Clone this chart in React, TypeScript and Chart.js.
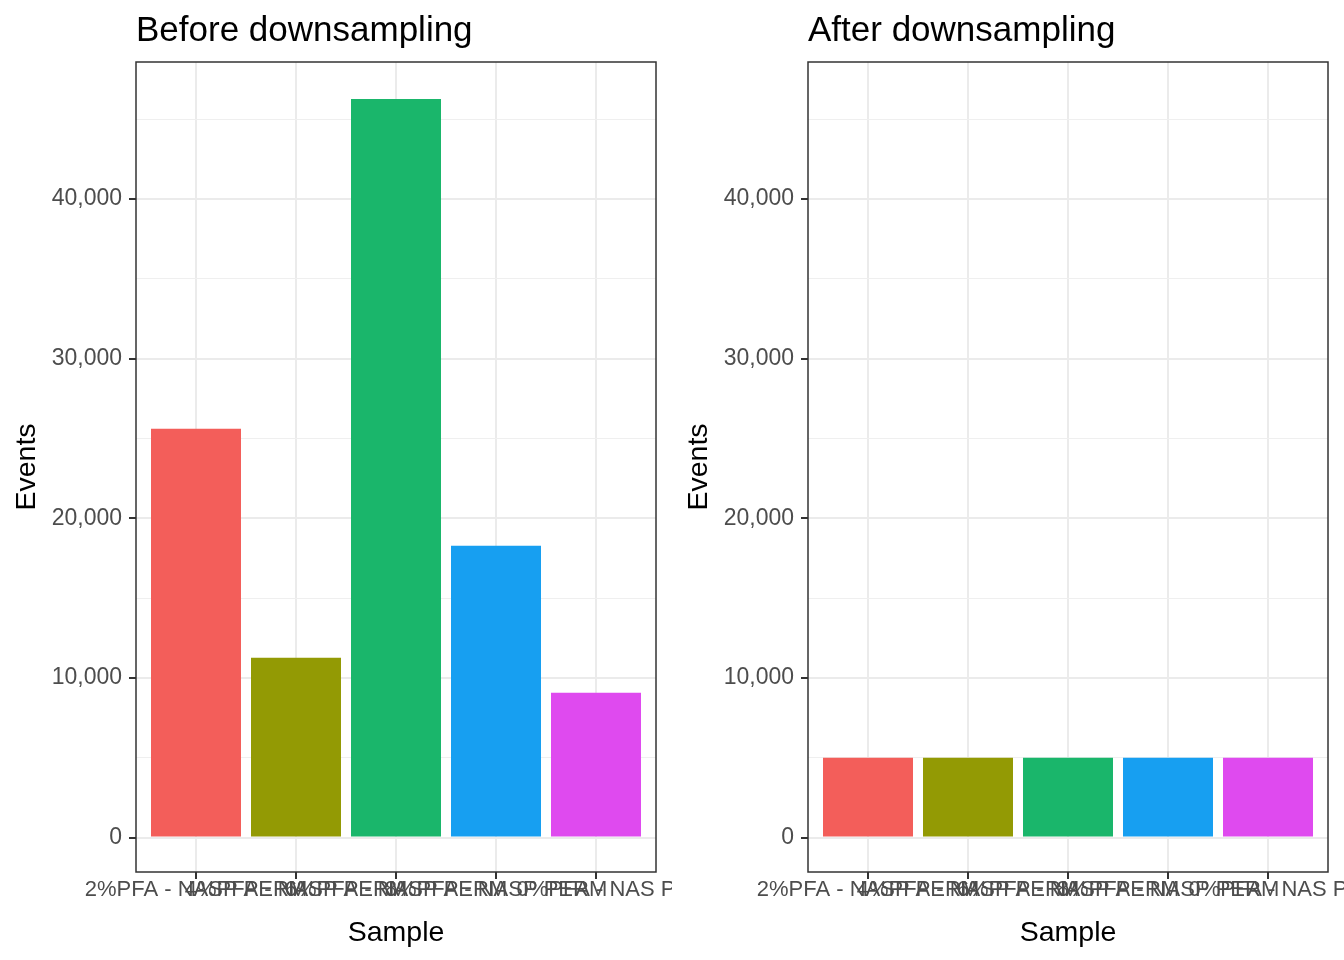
import { useEffect, useRef } from "react";
import { Chart, registerables } from "chart.js";

Chart.register(...registerables);

// Sample names (x categories) and bar colours
const SAMPLES = [
  "2%PFA - NASP PERM",
  "4%PFA - NASP PERM",
  "6%PFA - NASP PERM",
  "8%PFA - NASP PERM",
  "0%PFA - NAS P",
];
const COLOURS = ["#F35E5A", "#939A04", "#1AB66B", "#179FF1", "#DF4AEF"];

// Event counts per sample
const EVENTS_BEFORE = [25600, 11260, 46260, 18270, 9070];
const EVENTS_AFTER = [5000, 5000, 5000, 5000, 5000];

// y axis: breaks every 5,000 (labels on the 10,000s)
const Y_TICKS = [0, 5000, 10000, 15000, 20000, 25000, 30000, 35000, 40000, 45000];
const Y_MIN = -2160;
const Y_MAX = 48570;

const FONT = "'Liberation Sans', Arial, Helvetica, sans-serif";
const isMajor = (v: number) => v % 10000 === 0;

const panelBorder = {
  id: "panelBorder",
  afterDatasetsDraw(chart: Chart) {
    const { ctx, chartArea } = chart;
    ctx.save();
    ctx.strokeStyle = "#333333";
    ctx.lineWidth = 1.5;
    ctx.strokeRect(chartArea.left, chartArea.top, chartArea.right - chartArea.left, chartArea.bottom - chartArea.top);
    ctx.restore();
  },
};

function EventsPanel({ title, values }: { title: string; values: number[] }) {
  const canvasRef = useRef<HTMLCanvasElement>(null);

  useEffect(() => {
    if (!canvasRef.current) return;
    const chart = new Chart(canvasRef.current, {
      type: "bar",
      data: {
        datasets: [
          {
            label: "Events",
            data: values.map((v, i) => ({ x: i + 1, y: v })),
            backgroundColor: COLOURS,
            borderWidth: 0,
            barPercentage: 0.9,
            categoryPercentage: 1,
          },
        ],
      },
      options: {
        animation: false,
        responsive: true,
        maintainAspectRatio: false,
        layout: { padding: { top: 0, right: 16, bottom: 0, left: 0 } },
        plugins: {
          legend: { display: false },
          tooltip: { enabled: false },
          title: {
            display: true,
            text: title,
            align: "start",
            fullSize: false,
            color: "#000000",
            font: { family: FONT, size: 35, weight: "normal", lineHeight: 1.2 },
            padding: { top: 10, bottom: 10 },
          },
        },
        scales: {
          x: {
            type: "linear",
            min: 0.4,
            max: 5.6,
            offset: false,
            afterBuildTicks: (s: any) => {
              s.ticks = SAMPLES.map((_, i) => ({ value: i + 1 }));
            },
            afterFit: (s: any) => {
              s.height = 88;
              s.paddingLeft = 0;
              s.paddingRight = 0;
            },
            grid: {
              offset: false,
              color: "#EBEBEB",
              lineWidth: 2,
              tickColor: "#333333",
              tickWidth: 2,
              tickLength: 7,
            },
            border: { display: false },
            ticks: {
              autoSkip: false,
              maxRotation: 0,
              minRotation: 0,
              padding: 0,
              color: "#4D4D4D",
              font: { family: FONT, size: 22, lineHeight: 1 },
              callback: (v: any) => SAMPLES[Math.round(Number(v)) - 1] ?? "",
            },
            title: {
              display: true,
              text: "Sample",
              color: "#000000",
              font: { family: FONT, size: 28.5, lineHeight: 1.2 },
              padding: { top: 0, bottom: 10 },
            },
          },
          y: {
            type: "linear",
            min: Y_MIN,
            max: Y_MAX,
            afterBuildTicks: (s: any) => {
              s.ticks = Y_TICKS.map((v) => ({ value: v }));
            },
            afterFit: (s: any) => {
              s.width = 136;
            },
            grid: {
              color: (c: any) => (isMajor(c.tick?.value ?? 0) ? "#EBEBEB" : "#EFEFEF"),
              lineWidth: (c: any) => (isMajor(c.tick?.value ?? 0) ? 2 : 1),
              tickColor: (c: any) => (isMajor(c.tick?.value ?? 0) ? "#333333" : "rgba(0,0,0,0)"),
              tickWidth: 2,
              tickLength: 7,
            },
            border: { display: false },
            ticks: {
              padding: 7,
              color: "#4D4D4D",
              font: { family: FONT, size: 23 },
              callback: (v: any) => (isMajor(Number(v)) ? Number(v).toLocaleString("en-US") : ""),
            },
            title: {
              display: true,
              text: "Events",
              color: "#000000",
              font: { family: FONT, size: 28.5, lineHeight: 1.2 },
              padding: { top: 10, bottom: 0 },
            },
          },
        },
      },
      plugins: [panelBorder],
    } as any);
    return () => chart.destroy();
  }, [title, values]);

  return (
    <div style={{ position: "relative", width: 672, height: 960 }}>
      <canvas ref={canvasRef} role="img" aria-label={title} />
    </div>
  );
}

export default function App() {
  return (
    <div
      style={{
        position: "absolute",
        left: 0,
        top: 0,
        width: 1344,
        height: 960,
        display: "flex",
        background: "#ffffff",
      }}
    >
      <EventsPanel title="Before downsampling" values={EVENTS_BEFORE} />
      <EventsPanel title="After downsampling" values={EVENTS_AFTER} />
    </div>
  );
}
